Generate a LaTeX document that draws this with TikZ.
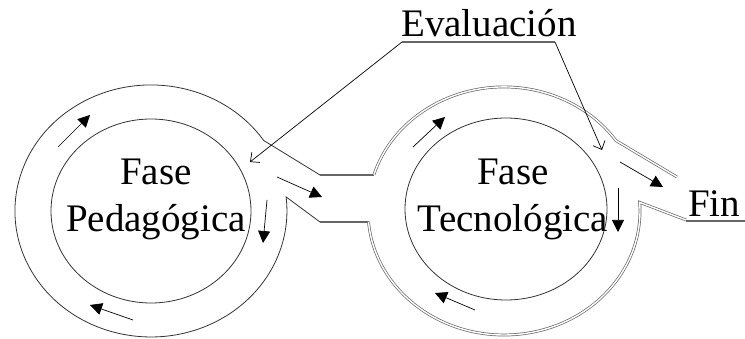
\documentclass[tikz,border=0pt]{standalone}
\usepackage{fontspec}
\setmainfont{Liberation Serif}
\usetikzlibrary{arrows.meta}
\begin{document}
\begin{tikzpicture}[x=1pt,y=-1pt,
every node/.style={inner sep=0pt, font=\fontsize{39}{47}\selectfont},
fase/.style={align=center},
ring/.style={line width=0.8pt, draw=black!80},
dring/.style={draw=black!60, line width=0.7pt, double=white, double distance=1.4pt},
canal/.style={line width=2.8pt, draw=gray!80!black},
flujo/.style={line width=0.7pt, -{Triangle[length=12pt,width=12pt]}},
nota/.style={line width=0.7pt, -{Straight Barb[length=7pt,width=13pt]}}
]
\useasboundingbox (0,0) rectangle (745,339);

\node[fase] at (156,199) (ped) {Fase\\Pedagógica};
\node[fase] at (513,199) (tec) {Fase\\Tecnológica};
\node[anchor=base west] at (401,37) (eval) {Evaluación};
\node[anchor=base west] at (688,217) (fin) {Fin};

\coordinate (evl) at (402,42);
\coordinate (evr) at (555,42);
\coordinate (pedin) at (250,162);
\coordinate (tecin) at (602,150);

\draw[ring] (151,211) ellipse[x radius=100, y radius=92];
\draw[ring] (506,209) ellipse[x radius=101, y radius=91];

\draw[ring] (372,175) -- (320,175) -- (263.7,140.5)
  arc[start angle=-34, end angle=-366.4, x radius=136, y radius=126]
  -- (320,222) -- (369,222);
\draw[canal] (320,175) -- (374,175);
\draw[canal] (320,222) -- (369,222);

\draw[dring] (373.9,174.7)
  arc[start angle=-163, end angle=-34.6, x radius=136, y radius=124]
  -- (677,177);
\draw[dring] (368.5,221.8)
  arc[start angle=175, end angle=-4, x radius=136, y radius=124]
  -- (686,220);
\draw[canal] (686,221) -- (745,221);

\draw[canal] (evl) -- (evr);
\draw[nota] (evl) -- (pedin);
\draw[nota] (evr) -- (tecin);

\draw[flujo] (58,147) -- (90,115);
\draw[flujo] (133,320) -- (90,305);
\draw[flujo] (267,200) -- (263,243);
\draw[flujo] (277,177) -- (322,197);

\draw[flujo] (413,147) -- (445,117);
\draw[flujo] (475,310) -- (435,293);
\draw[flujo] (618,188) -- (618,232);
\draw[flujo] (620,162) -- (663,187);

\end{tikzpicture}
\end{document}
